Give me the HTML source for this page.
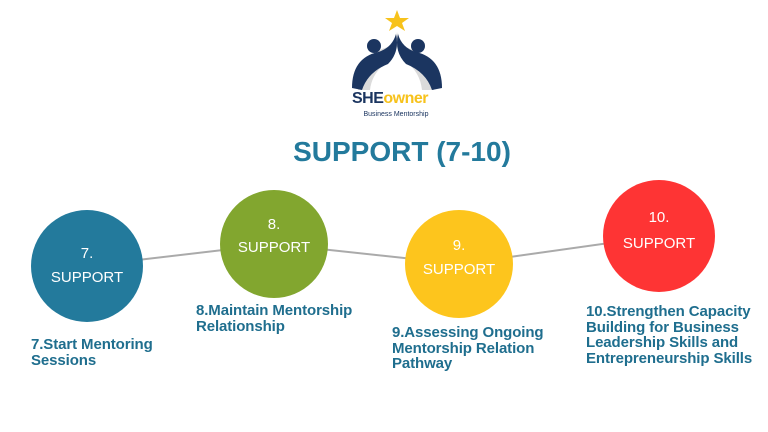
<!DOCTYPE html>
<html><head><meta charset="utf-8"><style>
body{margin:0;width:768px;height:432px;background:#fff;position:relative;overflow:hidden;font-family:"Liberation Sans",sans-serif}
.c{position:absolute;border-radius:50%;color:#fff;text-align:center;font-size:15px;line-height:1}
.c span{position:absolute;left:0;right:0}
.l{position:absolute;color:#1f6e8e;font-weight:bold;font-size:15px;line-height:15.5px;letter-spacing:-0.1px}
</style></head><body>
<svg width="768" height="432" style="position:absolute;left:0;top:0">
<line x1="87" y1="266" x2="274" y2="244" stroke="#aaa" stroke-width="2"/>
<line x1="274" y1="244" x2="460" y2="264" stroke="#aaa" stroke-width="2"/>
<line x1="460" y1="264" x2="659" y2="236" stroke="#aaa" stroke-width="2"/>
<polygon points="397,10 400,18 409,18 402,23 405,31 397,26 389,31 392,23 385,18 394,18" fill="#f7c21b"/>
<path d="M358,90 Q360,55 385,48 Q395,44 398,32 Q400,50 388,62 Q372,72 370,90 Z" fill="#ccc" opacity=".7"/>
<path d="M434,90 Q432,55 408,48 Q398,44 396,32 Q394,50 406,62 Q420,72 422,90 Z" fill="#ccc" opacity=".7"/>
<path d="M352,88 Q352,58 378,52 Q392,48 396,34 Q400,52 388,64 Q368,72 362,90 Z" fill="#1b3560"/>
<path d="M442,88 Q442,58 416,52 Q402,48 398,34 Q394,52 406,64 Q426,72 432,90 Z" fill="#1b3560"/>
<circle cx="374" cy="46" r="7" fill="#1b3560"/>
<circle cx="418" cy="46" r="7" fill="#1b3560"/>
<text x="352" y="103" font-family="Liberation Sans" font-weight="bold" font-size="16" fill="#1b3560" letter-spacing="-0.5">SHE<tspan fill="#f7c21b">owner</tspan></text>
<text x="396" y="116" text-anchor="middle" font-family="Liberation Sans" font-size="7" fill="#1b3560">Business Mentorship</text>
</svg>
<div style="position:absolute;left:0;width:804px;top:136px;text-align:center;font-weight:bold;font-size:28px;color:#237a9c">SUPPORT (7-10)</div>
<div class="c" style="left:31px;top:210px;width:112px;height:112px;background:#237a9c"><span style="top:36px">7.</span><span style="top:60px">SUPPORT</span></div>
<div class="c" style="left:220px;top:190px;width:108px;height:108px;background:#82a62f"><span style="top:27px">8.</span><span style="top:50px">SUPPORT</span></div>
<div class="c" style="left:405px;top:210px;width:108px;height:108px;background:#fdc51d"><span style="top:28px">9.</span><span style="top:52px">SUPPORT</span></div>
<div class="c" style="left:603px;top:180px;width:112px;height:112px;background:#fe3434"><span style="top:30px">10.</span><span style="top:56px">SUPPORT</span></div>
<div class="l" style="left:31px;top:337px">7.Start Mentoring<br>Sessions</div>
<div class="l" style="left:196px;top:303px">8.Maintain Mentorship<br>Relationship</div>
<div class="l" style="left:392px;top:325px">9.Assessing Ongoing<br>Mentorship Relation<br>Pathway</div>
<div class="l" style="left:586px;top:304px">10.Strengthen Capacity<br>Building for Business<br>Leadership Skills and<br>Entrepreneurship Skills</div>
</body></html>
